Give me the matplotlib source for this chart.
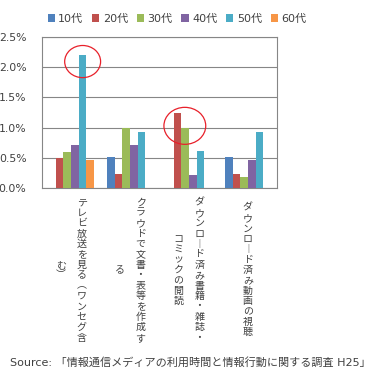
import numpy as np
import matplotlib.pyplot as plt
from matplotlib.patches import Ellipse

plt.rcParams['font.family'] = ['DejaVu Sans', 'Noto Sans CJK JP']

# データ
ages = ['10代', '20代', '30代', '40代', '50代', '60代']
colors = ['#4F81BD', '#C0504D', '#9BBB59', '#8064A2', '#4BACC6', '#F79646']
# 縦書きラベル（右の列から順に）
labels = [
    ['テレビ放送を見る（ワンセグ含', 'む）'],
    ['クラウドで文書・表等を作成す', 'る'],
    ['ダウンロード済み書籍・雑誌・', 'コミックの閲読'],
    ['ダウンロード済み動画の視聴'],
]
values = {
    '10代': [0.0, 0.52, 0.0, 0.52],
    '20代': [0.50, 0.24, 1.25, 0.24],
    '30代': [0.60, 1.00, 1.00, 0.19],
    '40代': [0.72, 0.72, 0.22, 0.47],
    '50代': [2.20, 0.93, 0.62, 0.93],
    '60代': [0.47, 0.0, 0.0, 0.0],
}
source = 'Source: 「情報通信メディアの利用時間と情報行動に関する調査 H25」'

# 縦書き用の文字置き換え
vert = {'（': '︵', '）': '︶', 'ー': '︱'}

fig = plt.figure(figsize=(3.71, 3.73), dpi=100)
ax = fig.add_axes([41.7 / 371, 1 - 188.3 / 373, 235.6 / 371, 151.6 / 373])

x = np.arange(len(labels))
w = 0.13
for i, age in enumerate(ages):
    ax.bar(x + (i - 2.5) * w, values[age], w, color=colors[i], label=age,
           zorder=3)

ax.set_xlim(-0.5, len(labels) - 0.5)
ax.set_ylim(0, 2.5)
ax.set_yticks(np.arange(0, 2.51, 0.5))
ax.set_yticklabels(['%.1f%%' % v for v in np.arange(0, 2.51, 0.5)])
ax.set_xticks([])
ax.tick_params(axis='y', length=0, pad=11, labelsize=7.8, colors='#404040')
ax.yaxis.grid(True, color='#868686', linewidth=0.8, zorder=0)
for s in ax.spines.values():
    s.set_color('#868686')

# 赤丸
ax.add_patch(Ellipse((0 + 1.5 * w, 2.09), 0.61, 0.53, fill=False,
                     edgecolor='#E8202A', linewidth=0.9, zorder=4,
                     clip_on=False))
ax.add_patch(Ellipse((2 - 0.07, 1.03), 0.71, 0.61, fill=False,
                     edgecolor='#E8202A', linewidth=0.9, zorder=4,
                     clip_on=False))

# 縦書きの項目名
step = 10.4 * 0.72
for k, cols in enumerate(labels):
    ncol = len(cols)
    for c, text in enumerate(cols):
        dx = ((ncol - 1) / 2 - c) * 21 * 0.72
        n = len(text)
        for j, ch in enumerate(text):
            dy = -(81.7 * 0.72 + (j - (n - 1) / 2) * step)
            ax.annotate(vert.get(ch, ch), xy=(k, 0),
                        xycoords=ax.get_xaxis_transform(),
                        xytext=(dx, dy), textcoords='offset points',
                        ha='center', va='center', fontsize=7.2,
                        family=['Noto Sans CJK JP'], color='#404040')

fig.legend(loc='center', bbox_to_anchor=(177 / 371, 1 - 19 / 373), ncol=6,
           frameon=False, fontsize=8, handlelength=0.65, handleheight=0.65,
           handletextpad=0.3, columnspacing=0.8, labelcolor='#404040')

fig.text(10 / 371, 1 - 362 / 373, source, fontsize=8, color='#404040',
         va='center', family=['DejaVu Sans', 'Noto Sans CJK JP'])

fig.savefig('out.png', dpi=100)
